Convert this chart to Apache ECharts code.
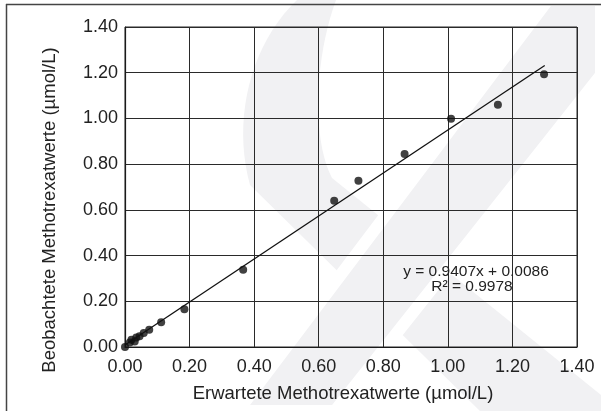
<!DOCTYPE html>
<html>
<head>
<meta charset="utf-8">
<script src="https://cdn.jsdelivr.net/npm/echarts@6/dist/echarts.min.js"></script>
<style>
  html, body { margin: 0; padding: 0; background: #fff; }
  #chart { width: 601px; height: 411px; }
</style>
</head>
<body>
<div id="chart"></div>
<script>
// ---- data ----
const expectedValues = [0, 0.015, 0.02, 0.03, 0.035, 0.045, 0.058, 0.075, 0.112, 0.184, 0.366, 0.648, 0.723, 0.866, 1.010, 1.155, 1.298];
const observedValues = [0, 0.020, 0.032, 0.024, 0.042, 0.047, 0.061, 0.076, 0.108, 0.165, 0.338, 0.640, 0.727, 0.844, 0.999, 1.060, 1.193];
const fitSlope = 0.9407;
const fitIntercept = 0.0086;
const fitXRange = [0, 1.30];
const equationText = 'y = 0.9407x + 0.0086';
const r2Text = 'R² = 0.9978';
const xTitle = 'Erwartete Methotrexatwerte (µmol/L)';
const yTitle = 'Beobachtete Methotrexatwerte (µmol/L)';
const axisMin = 0, axisMax = 1.4, axisStep = 0.2;

const points = expectedValues.map((x, i) => [x, observedValues[i]]);
const fitLine = fitXRange.map(x => [x, fitSlope * x + fitIntercept]);

// decorative watermark outline (background ribbon), sampled from bezier curves
function bez(p0, p1, p2, p3, n) {
  const out = [];
  for (let i = 0; i <= n; i++) {
    const t = i / n, u = 1 - t;
    out.push([
      u*u*u*p0[0] + 3*u*u*t*p1[0] + 3*u*t*t*p2[0] + t*t*t*p3[0],
      u*u*u*p0[1] + 3*u*u*t*p1[1] + 3*u*t*t*p2[1] + t*t*t*p3[1]
    ]);
  }
  return out;
}
const ribbon = [].concat(
  bez([297,0],[250,45],[232,120],[250,185], 20),
  [[480,411],[601,411],[601,395],[332,178]],
  bez([332,178],[312,140],[314,60],[336,0], 20)
);

const chart = echarts.init(document.getElementById('chart'), null, { renderer: 'canvas' });
const font = '"Liberation Sans", Arial, sans-serif';
const wm = '#f1f1f3';

const axisCommon = {
  type: 'value', min: axisMin, max: axisMax, interval: axisStep,
  axisLine: { show: true, lineStyle: { color: '#1a1a1a', width: 1.2 } },
  axisTick: { show: false },
  splitLine: { show: true, lineStyle: { color: '#2a2a2a', width: 1 } },
  axisLabel: { fontFamily: font, fontSize: 18, color: '#222', formatter: v => v.toFixed(2) },
  nameLocation: 'middle',
  nameTextStyle: { fontFamily: font, fontSize: 18.5, color: '#222' }
};

chart.setOption({
  backgroundColor: '#fff',
  animation: false,
  grid: { left: 125, right: 24, top: 27, bottom: 64, show: true, borderColor: '#2a2a2a', borderWidth: 1 },
  xAxis: Object.assign({}, axisCommon, {
    name: xTitle, nameGap: 37,
    axisLabel: Object.assign({}, axisCommon.axisLabel, { margin: 11 }),
    nameTextStyle: Object.assign({}, axisCommon.nameTextStyle, { padding: [0, 16, 0, 0] })
  }),
  yAxis: Object.assign({}, axisCommon, {
    name: yTitle, nameGap: 66,
    axisLabel: Object.assign({}, axisCommon.axisLabel, { margin: 7 }),
    nameTextStyle: Object.assign({}, axisCommon.nameTextStyle, { padding: [0, 46, 0, 0] })
  }),
  graphic: [
    { type: 'polygon', z: -10, silent: true,
      shape: { points: ribbon },
      style: { fill: wm } },
    { type: 'polygon', z: -9, silent: true,
      shape: { points: [[548,0],[601,0],[601,75],[335,411],[238,411]] },
      style: { fill: wm, stroke: '#fff', lineWidth: 12 } },
    { type: 'line', z: 100, silent: true, shape: { x1: 6, y1: 4.5, x2: 601, y2: 4.5 }, style: { stroke: '#444', lineWidth: 1.5 } },
    { type: 'line', z: 100, silent: true, shape: { x1: 6.5, y1: 4, x2: 6.5, y2: 411 }, style: { stroke: '#444', lineWidth: 1.5 } },
    { type: 'text', z: 100, x: 476, y: 272,
      style: { text: equationText, font: '15.5px "Liberation Sans", Arial, sans-serif', fill: '#222', textAlign: 'center', textVerticalAlign: 'middle' } },
    { type: 'text', z: 100, x: 472, y: 287,
      style: { text: r2Text, font: '15.5px "Liberation Sans", Arial, sans-serif', fill: '#222', textAlign: 'center', textVerticalAlign: 'middle' } }
  ],
  series: [
    { type: 'line', data: fitLine, showSymbol: false, symbol: 'none',
      lineStyle: { color: '#111', width: 1.3 }, z: 3, silent: true },
    { type: 'scatter', data: points, symbol: 'circle', symbolSize: 8,
      itemStyle: { color: '#111' }, z: 4 }
  ]
});
</script>
</body>
</html>
